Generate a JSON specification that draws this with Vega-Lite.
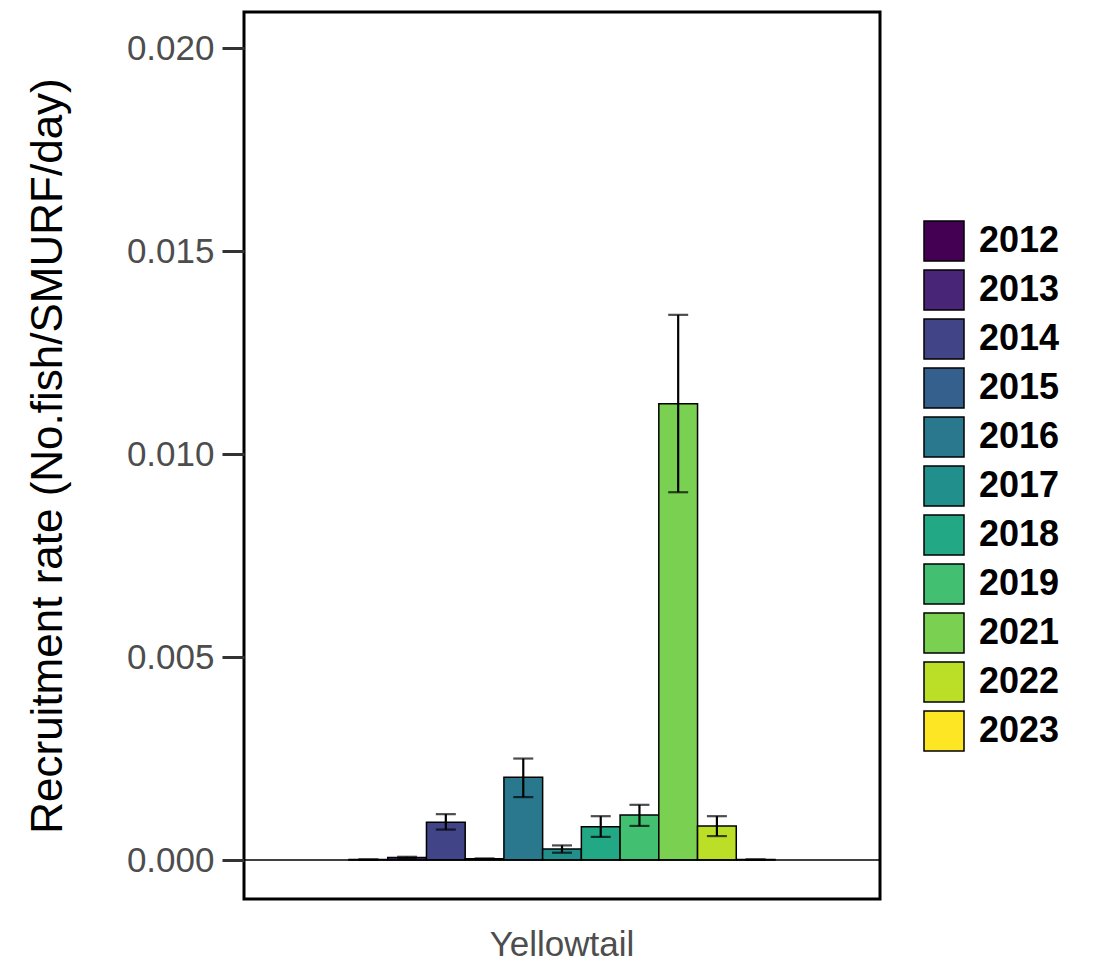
{
  "$schema": "https://vega.github.io/schema/vega-lite/v6.json",
  "width": 636,
  "height": 887,
  "padding": {"left": 26, "top": 12, "right": 10, "bottom": 10},
  "background": "white",
  "config": {
    "font": "Liberation Sans",
    "view": {"stroke": "black", "strokeWidth": 3}
  },
  "data": {
    "values": [
      {"species": "Yellowtail", "year": "2012", "rate": 0.00001, "lo": 0.00001, "hi": 0.00001},
      {"species": "Yellowtail", "year": "2013", "rate": 0.00006, "lo": 0.00004, "hi": 0.00008},
      {"species": "Yellowtail", "year": "2014", "rate": 0.00093, "lo": 0.00075, "hi": 0.00113},
      {"species": "Yellowtail", "year": "2015", "rate": 0.00003, "lo": 0.00002, "hi": 0.00004},
      {"species": "Yellowtail", "year": "2016", "rate": 0.00204, "lo": 0.00155, "hi": 0.00250},
      {"species": "Yellowtail", "year": "2017", "rate": 0.00027, "lo": 0.00018, "hi": 0.00036},
      {"species": "Yellowtail", "year": "2018", "rate": 0.00082, "lo": 0.00057, "hi": 0.00108},
      {"species": "Yellowtail", "year": "2019", "rate": 0.00111, "lo": 0.00084, "hi": 0.00136},
      {"species": "Yellowtail", "year": "2021", "rate": 0.01124, "lo": 0.00906, "hi": 0.01343},
      {"species": "Yellowtail", "year": "2022", "rate": 0.00084, "lo": 0.00059, "hi": 0.00108},
      {"species": "Yellowtail", "year": "2023", "rate": 0.00001, "lo": 0.00001, "hi": 0.00001}
    ]
  },
  "encoding": {
    "x": {
      "field": "species", "type": "nominal",
      "scale": {"paddingInner": 0, "paddingOuter": 0.2465},
      "axis": {"title": null, "domain": false, "ticks": false, "labelAngle": 0,
               "labelFontSize": 35, "labelColor": "#4D4D4D", "labelPadding": 28}
    },
    "xOffset": {"field": "year", "type": "nominal", "scale": {"paddingInner": 0, "paddingOuter": 0}},
    "y": {
      "type": "quantitative",
      "scale": {"domain": [-0.00096, 0.02089], "nice": false, "zero": false},
      "axis": {"title": "Recruitment rate (No.fish/SMURF/day)", "titleFontSize": 44, "titleFontWeight": "normal",
               "titleColor": "black", "titlePadding": 56,
               "values": [0, 0.005, 0.01, 0.015, 0.02], "format": ".3f", "grid": false, "domain": false,
               "tickSize": 22, "tickWidth": 3, "tickColor": "#333333",
               "labelFontSize": 35, "labelColor": "#4D4D4D", "labelPadding": 8}
    }
  },
  "layer": [
    {
      "mark": {"type": "bar", "stroke": "black", "strokeWidth": 1.5},
      "encoding": {
        "y": {"field": "rate", "type": "quantitative"},
        "y2": {"datum": 0},
        "color": {
          "field": "year", "type": "nominal",
          "scale": {"domain": ["2012","2013","2014","2015","2016","2017","2018","2019","2021","2022","2023"],
                    "range": ["#440154","#482576","#414487","#35608D","#2A788E","#21908C","#22A884","#43BF71","#7AD151","#BBDF27","#FDE725"]},
          "legend": {"title": null, "orient": "none", "legendX": 679, "legendY": 208,
                     "symbolType": "square", "symbolSize": 1600, "symbolStrokeColor": "black",
                     "symbolStrokeWidth": 1.5, "symbolOpacity": 1,
                     "labelFontSize": 36, "labelFontWeight": "bold", "labelColor": "black",
                     "rowPadding": 3, "labelOffset": 14, "labelLimit": 200}
        }
      }
    },
    {
      "mark": {"type": "rule", "color": "black", "strokeWidth": 2.2},
      "encoding": {
        "y": {"field": "lo", "type": "quantitative"},
        "y2": {"field": "hi"}
      }
    },
    {
      "mark": {"type": "tick", "color": "black", "thickness": 2.2, "size": 20},
      "encoding": {"y": {"field": "lo", "type": "quantitative"}}
    },
    {
      "mark": {"type": "tick", "color": "black", "thickness": 2.2, "size": 20},
      "encoding": {"y": {"field": "hi", "type": "quantitative"}}
    },
    {
      "data": {"values": [{"z": 0}]},
      "mark": {"type": "rule", "color": "black", "strokeWidth": 1.5},
      "encoding": {"x": null, "xOffset": null, "y": {"field": "z", "type": "quantitative"}}
    }
  ]
}
